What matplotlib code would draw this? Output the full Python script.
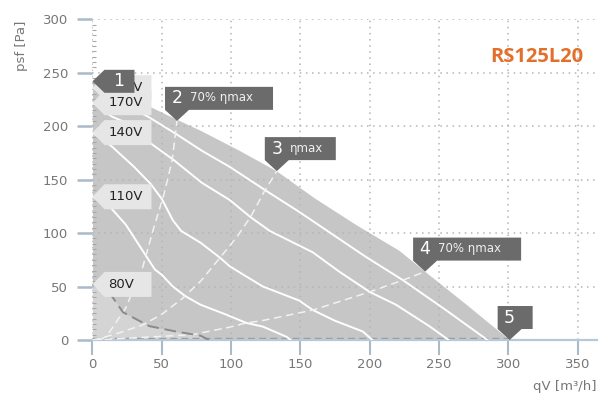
import matplotlib
matplotlib.use("Agg")
import matplotlib.pyplot as plt
import matplotlib.transforms as mtransforms
from matplotlib.patches import Polygon

# outer envelope (max speed)
qv_env = [0, 25, 50, 78, 105, 133, 160, 190, 221, 240, 270, 301]
psf_env = [242, 229, 213, 196, 178, 158, 133, 108, 84, 64, 33, 0]

# speed curves
qv_200 = [0, 20, 40, 60, 79, 99, 126, 149, 173, 197, 224, 255, 285]
psf_200 = [236, 222, 209, 193, 177, 162, 139, 120, 99, 78, 56, 28, 0]
qv_170 = [0, 14, 23, 43, 58, 79, 99, 114, 128, 159, 178, 200, 219, 243, 257]
psf_170 = [222, 209, 204, 183, 169, 147, 131, 115, 102, 82, 64, 45, 33, 13, 0]
qv_140 = [0, 14, 30, 42, 50, 58, 64, 78, 92, 99, 109, 123, 149, 159, 175, 195, 202]
psf_140 = [194, 181, 162, 146, 132, 112, 102, 91, 77, 69, 61, 50, 37, 28, 18, 8, 0]
qv_110 = [0, 13, 24, 36, 45, 50, 58, 67, 78, 96, 111, 123, 140, 143]
psf_110 = [134, 124, 108, 84, 66, 61, 50, 41, 33, 24, 16, 12.5, 3, 0]
qv_80 = [0, 14, 22, 41, 60, 78, 84]
psf_80 = [52, 41, 26, 13, 8, 4, 0]

# efficiency lines
qv_eta70a = [5, 10, 24, 36, 44, 51.5, 57.5, 61]
psf_eta70a = [0, 3, 30, 67, 104, 136, 168, 205]
qv_etamax = [0, 7, 20, 36, 50, 65, 78, 92, 99, 105, 114, 124, 133]
psf_etamax = [0, 2, 7, 14, 24, 39, 55, 77, 88, 98, 115, 139, 158]
qv_eta70b = [0, 30, 72, 99, 111, 122, 159, 200, 224, 240]
psf_eta70b = [0, 2, 5, 12, 16, 18, 28, 45, 56, 64]

volt_labels = ["200V", "170V", "140V", "110V", "80V"]
volt_start = [psf_200[0], psf_170[0], psf_140[0], psf_110[0], psf_80[0]]

fig = plt.figure(figsize=(6.06, 3.98), dpi=100)
ax = fig.add_axes([0.1526, 0.1457, 0.8325, 0.8058])
ax.set_xlim(0, 364)
ax.set_ylim(0, 300)

grid_kw = dict(color="#b4b4b4", lw=1.1, ls=(0, (1, 3)), zorder=0)
ax.set_xticks(range(0, 351, 50))
ax.set_yticks(range(0, 301, 50))
ax.set_yticks(range(0, 301, 5), minor=True)
ax.grid(True, **grid_kw)
for s in ["top", "right", "left"]:
    ax.spines[s].set_visible(False)
ax.spines["bottom"].set_color("#b8c8d8")
ax.spines["bottom"].set_linewidth(1.6)
ax.tick_params(axis="y", which="major", length=11, width=1.8, color="#a9bacb",
               pad=6.5, labelsize=9.5, labelcolor="#777777")
ax.tick_params(axis="y", which="minor", length=3, width=0.8, color="#a8a8a8",
               direction="in")
ax.tick_params(axis="x", length=11, width=1.5, color="#a9bacb", pad=2,
               labelsize=9.5, labelcolor="#777777")

ax.fill_between(qv_env, psf_env, 0, color="#c6c6c6", lw=0, zorder=1)
ax.fill_between(qv_80, psf_80, 0, color="#d4d4d4", lw=0, zorder=1.5)
ax.plot([0, 300], [1.5, 1.5], color="#9a9a9a", lw=1, ls=(0, (5, 3)), zorder=2)

for q, p in [(qv_200, psf_200), (qv_170, psf_170), (qv_140, psf_140), (qv_110, psf_110)]:
    ax.plot(q, p, color="white", lw=1.4, zorder=3)
for q, p in [(qv_eta70a, psf_eta70a), (qv_etamax, psf_etamax), (qv_eta70b, psf_eta70b)]:
    ax.plot(q, p, color="#f2f2f2", lw=1.1, ls=(0, (5, 3)), zorder=3)
ax.plot(qv_80, psf_80, color="#8a8a8a", lw=1.4, ls=(0, (6, 3)), zorder=3)


def px_trans(x, y):
    return mtransforms.Affine2D().scale(fig.dpi / 100) + \
        mtransforms.ScaledTranslation(x, y, ax.transData)


# voltage tags at curve starts
for lab, y in zip(volt_labels, volt_start):
    verts = [(0, 0), (12, 12.5), (59, 12.5), (59, -12.5), (12, -12.5)]
    ax.add_patch(Polygon(verts, closed=True, transform=px_trans(0, y),
                         facecolor="#e6e6e6", edgecolor="none", zorder=5, clip_on=False))
    ax.annotate(lab, xy=(0, y), xytext=(16, 0), textcoords="offset pixels",
                ha="left", va="center", fontsize=9.5, color="#222222", zorder=6)


def down_tag(x, y, num, text, w):
    verts = [(0, 0), (-12, 11), (-12, 34), (-12 + w, 34), (-12 + w, 11), (12, 11)]
    ax.add_patch(Polygon(verts, closed=True, transform=px_trans(x, y),
                         facecolor="#6b6b6b", edgecolor="none", zorder=7, clip_on=False))
    ax.annotate(num, xy=(x, y), xytext=(0, 22.5), textcoords="offset pixels",
                ha="center", va="center", fontsize=12.5, color="white", zorder=8)
    if text:
        ax.annotate(text, xy=(x, y), xytext=(13, 23), textcoords="offset pixels",
                    ha="left", va="center", fontsize=8.5, color="#f0f0f0", zorder=8)


# tag 1 (left pointing) at envelope start
verts1 = [(0, 0), (12, 11.5), (42, 11.5), (42, -11.5), (12, -11.5)]
ax.add_patch(Polygon(verts1, closed=True, transform=px_trans(qv_env[0], psf_env[0]),
                     facecolor="#6b6b6b", edgecolor="none", zorder=7, clip_on=False))
ax.annotate("1", xy=(qv_env[0], psf_env[0]), xytext=(26, 0), textcoords="offset pixels",
            ha="center", va="center", fontsize=12.5, color="white", zorder=8)

down_tag(qv_eta70a[-1], psf_eta70a[-1], "2", "70% ηmax", 108)
down_tag(qv_etamax[-1], psf_etamax[-1], "3", "ηmax", 71)
down_tag(qv_eta70b[-1], psf_eta70b[-1], "4", "70% ηmax", 108)
down_tag(qv_env[-1], psf_env[-1], "5", "", 35)

fig.text(0.036, 0.884, "psf [Pa]", rotation=90, ha="center", va="center",
         fontsize=9.5, color="#777777")
fig.text(0.985, 0.028, "qV [m³/h]", ha="right", va="center",
         fontsize=9.5, color="#777777")
fig.text(0.962, 0.856, "RS125L20", ha="right", va="center", fontsize=14.5,
         fontweight="bold", color="#e2702a", family=["Open Sans", "DejaVu Sans"])

fig.savefig("out.png", dpi=100)
